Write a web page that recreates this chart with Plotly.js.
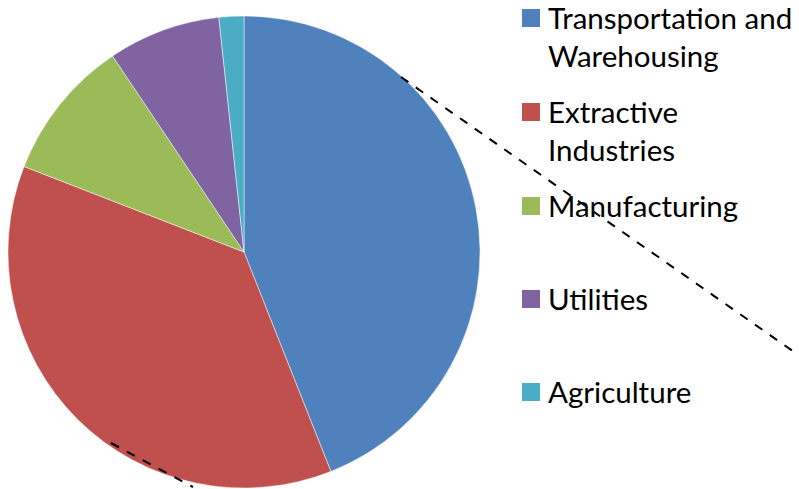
<!DOCTYPE html>
<html>
<head>
<meta charset="utf-8">
<script src="https://cdn.plot.ly/plotly-3.0.1.min.js"></script>
<style>html,body{margin:0;padding:0;background:#fff;}#chart{width:799px;height:489px;}</style>
</head>
<body>
<div id="chart"></div>
<script>
const categories = ["Transportation and<br>Warehousing", "Extractive<br>Industries", "Manufacturing", "Utilities", "Agriculture"];
const shares = [44.0, 36.9, 9.7, 7.7, 1.7];
const colors = ["#4F81BD", "#C0504D", "#9BBB59", "#8064A2", "#4BACC6"];

const W = 799, H = 489;
const px = x => x / W;
const py = y => 1 - y / H;

const FS = 29.5;
const legendCenters = [18, 112, 206, 299, 392];

const shapes = [];
const annotations = [];
categories.forEach((c, i) => {
  const cy = legendCenters[i];
  shapes.push({type: "rect", xref: "paper", yref: "paper",
    x0: px(522), x1: px(540), y0: py(cy - 9), y1: py(cy + 9),
    fillcolor: colors[i], line: {width: 0}});
  annotations.push({xref: "paper", yref: "paper", x: px(546), y: py(cy - FS * 0.68),
    xanchor: "left", yanchor: "top", align: "left", showarrow: false,
    text: c, font: {family: "Lato, 'Noto Sans', sans-serif", size: FS, color: "#000"}});
});
// dashed connector lines
shapes.push({type: "line", xref: "paper", yref: "paper", x0: px(401), y0: py(77), x1: px(797), y1: py(354),
  line: {color: "#000", width: 2, dash: "dash"}});
shapes.push({type: "line", xref: "paper", yref: "paper", x0: px(111), y0: py(443), x1: px(193), y1: py(487),
  line: {color: "#000", width: 2, dash: "dash"}});

const data = [{
  type: "pie",
  labels: categories,
  values: shares,
  sort: false,
  direction: "clockwise",
  rotation: 0,
  textinfo: "none",
  hoverinfo: "label+percent",
  marker: {colors: colors, line: {color: "rgba(255,255,255,0.6)", width: 0.8}},
  domain: {x: [px(244 - 236), px(244 + 236)], y: [py(252 + 236), py(252 - 236)]},
  showlegend: false
}];

const layout = {
  width: W, height: H,
  margin: {l: 0, r: 0, t: 0, b: 0},
  paper_bgcolor: "#fff",
  showlegend: false,
  shapes: shapes,
  annotations: annotations
};

Plotly.newPlot("chart", data, layout, {displayModeBar: false, staticPlot: true});
</script>
</body>
</html>
